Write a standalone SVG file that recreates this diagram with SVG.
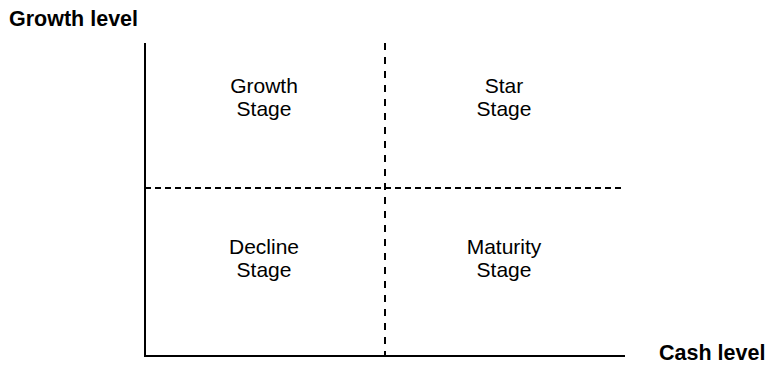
<svg xmlns="http://www.w3.org/2000/svg" width="765" height="365" viewBox="0 0 765 365">
<style>
.axis{stroke:#000;stroke-width:2;fill:none}
.dash{stroke:#000;stroke-width:2;fill:none}
.h{stroke-dasharray:6,4}
.v{stroke-dasharray:7,7}
.lbl{font-family:"Liberation Sans",Arial,sans-serif;font-size:21px;fill:#000;text-anchor:middle}
.ax{font-family:"Liberation Sans",Arial,sans-serif;font-size:21.5px;font-weight:bold;fill:#000}
</style>
<rect width="765" height="365" fill="#fff"/>
<g id="connectors">
<line class="dash v" x1="385" y1="43" x2="385" y2="356"/>
<line class="dash h" x1="145" y1="188" x2="625" y2="188"/>
<line class="axis" x1="145" y1="43" x2="145" y2="356"/>
<line class="axis" x1="144" y1="356" x2="625" y2="356"/>
</g>
<g id="axis-y"><text class="ax" x="9" y="26">Growth level</text></g>
<g id="axis-x"><text class="ax" x="659" y="360">Cash level</text></g>
<g id="growth"><text class="lbl" x="264" y="93">Growth</text><text class="lbl" x="264" y="116">Stage</text></g>
<g id="star"><text class="lbl" x="504" y="93">Star</text><text class="lbl" x="504" y="116">Stage</text></g>
<g id="decline"><text class="lbl" x="264" y="254">Decline</text><text class="lbl" x="264" y="277">Stage</text></g>
<g id="maturity"><text class="lbl" x="504" y="254">Maturity</text><text class="lbl" x="504" y="277">Stage</text></g>
</svg>
